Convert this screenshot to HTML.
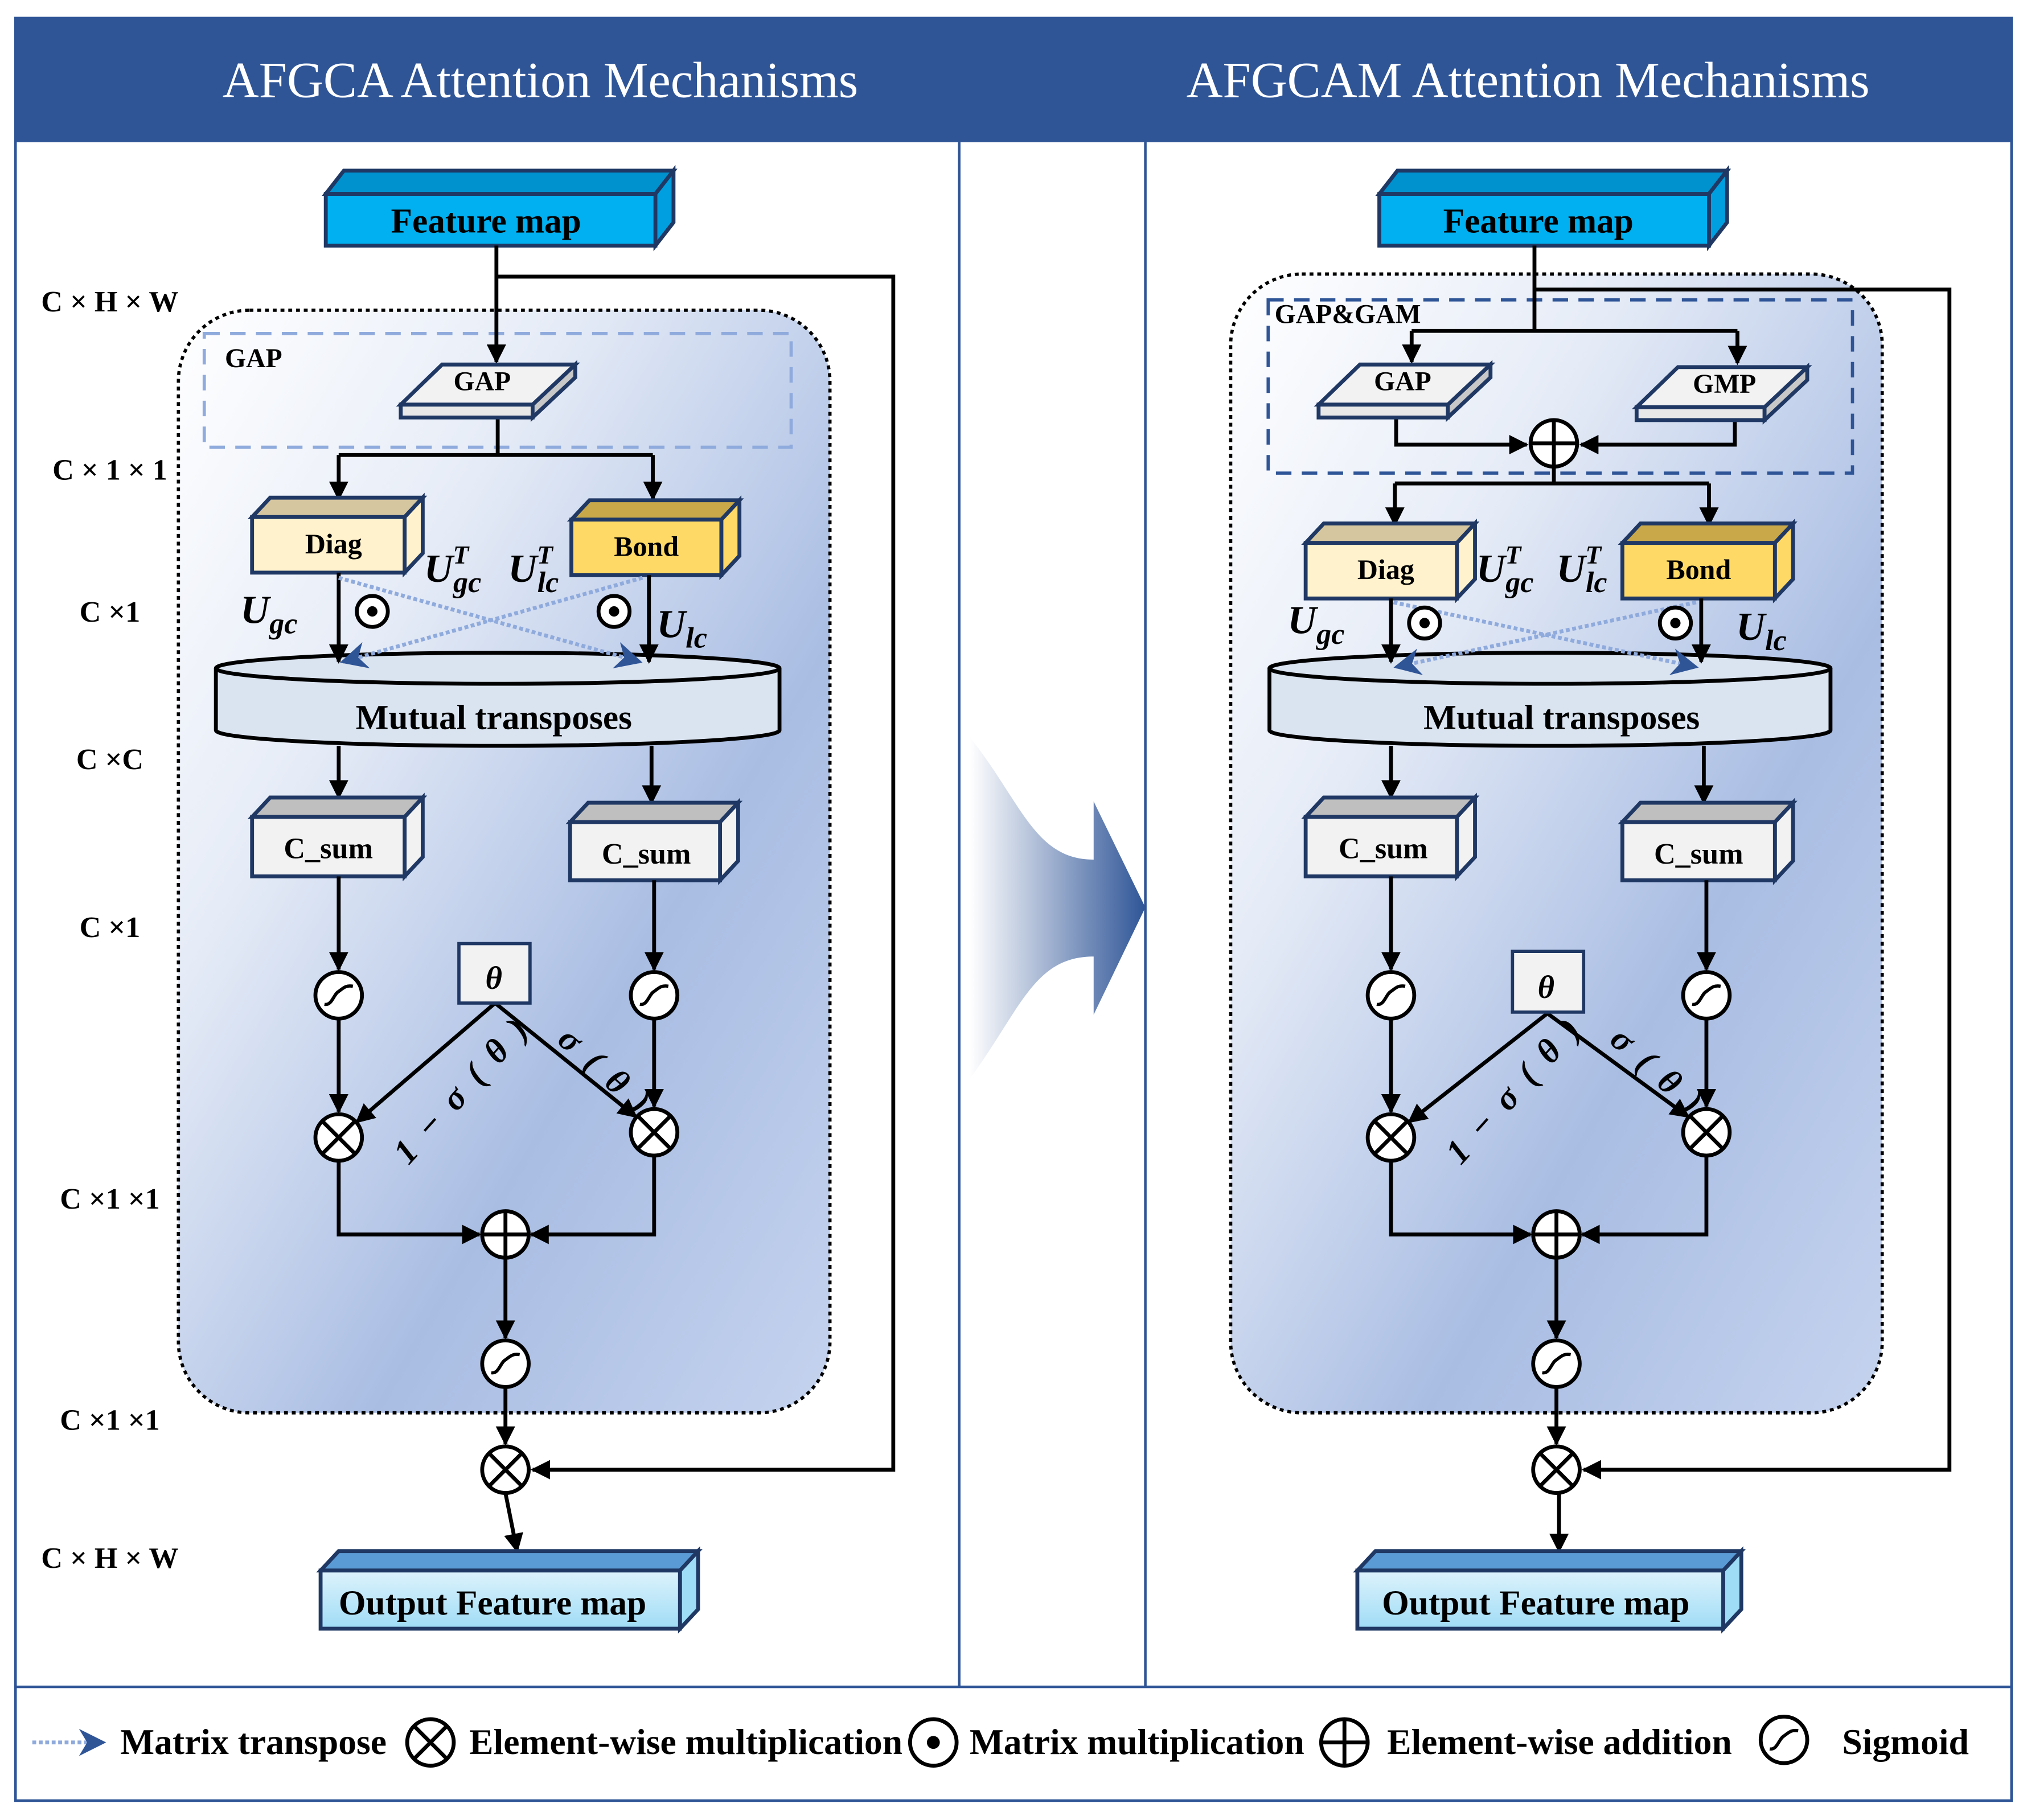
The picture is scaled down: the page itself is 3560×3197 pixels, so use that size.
<!DOCTYPE html>
<html><head><meta charset="utf-8"><style>
html,body{margin:0;padding:0;background:#fff;}
svg{display:block;}
text{font-family:"Liberation Serif",serif;font-weight:bold;}
</style></head><body>
<svg width="3560" height="3197" viewBox="0 0 1568 1408" preserveAspectRatio="none" xmlns="http://www.w3.org/2000/svg">
<defs>
<marker id="ah" viewBox="0 0 10 10" refX="9" refY="5" markerWidth="5" markerHeight="5" orient="auto" markerUnits="strokeWidth"><path d="M0,0 L10,5 L0,10 z" fill="#000"/></marker>
<marker id="bh" viewBox="0 0 10 10" refX="9" refY="5" markerWidth="7" markerHeight="7" orient="auto" markerUnits="strokeWidth"><path d="M0,0 L10,5 L0,10 L3,5 z" fill="#2f5597"/></marker>
<linearGradient id="panel" x1="0" y1="0" x2="1" y2="1">
<stop offset="0" stop-color="#ffffff"/><stop offset="0.3" stop-color="#e6ecf7"/><stop offset="0.65" stop-color="#a9bde3"/><stop offset="1" stop-color="#c5d3ee"/></linearGradient>
<linearGradient id="arrowg" x1="0" y1="0" x2="1" y2="0">
<stop offset="0" stop-color="#ffffff"/><stop offset="1" stop-color="#2f5597"/></linearGradient>
<linearGradient id="outg" x1="0" y1="0" x2="0" y2="1">
<stop offset="0" stop-color="#def3fc"/><stop offset="1" stop-color="#9fdcf6"/></linearGradient>
<g id="mul"><circle r="18" fill="#fff" stroke="#000" stroke-width="3"/><path d="M-12.7,-12.7 L12.7,12.7 M12.7,-12.7 L-12.7,12.7" stroke="#000" stroke-width="3"/></g>
<g id="add"><circle r="18" fill="#fff" stroke="#000" stroke-width="3"/><path d="M-18,0 L18,0 M0,-18 L0,18" stroke="#000" stroke-width="3"/></g>
<g id="sig"><circle r="18" fill="#fff" stroke="#000" stroke-width="3"/><path d="M-11,7 C-5,8 -4,-1 0,-3 C4,-6 6,-8 11,-7" fill="none" stroke="#000" stroke-width="2.5"/></g>
<g id="dot"><circle r="12" fill="#fff" stroke="#000" stroke-width="3"/><circle r="4" fill="#000"/></g>
</defs>

<rect x="12" y="14" width="1544" height="1379" fill="#fff" stroke="#2f5597" stroke-width="2"/>
<rect x="12" y="14" width="1544" height="96" fill="#2f5597"/>
<text x="418" y="75" font-size="39" fill="#fff" style="font-weight:normal" text-anchor="middle">AFGCA Attention Mechanisms</text>
<text x="1182" y="75" font-size="39" fill="#fff" style="font-weight:normal" text-anchor="middle">AFGCAM Attention Mechanisms</text>
<line x1="742" y1="110" x2="742" y2="1305" stroke="#2f5597" stroke-width="2"/>
<line x1="886" y1="110" x2="886" y2="1305" stroke="#2f5597" stroke-width="2"/>
<line x1="12" y1="1305" x2="1556" y2="1305" stroke="#2f5597" stroke-width="2"/>

<path d="M750,570 C790,620 800,665 846,665 L846,620 L886,702 L846,785 L846,740 C800,740 790,780 750,835 Z" fill="url(#arrowg)"/>

<g font-size="23" text-anchor="middle">
<text x="85" y="241">C × H × W</text>
<text x="85" y="371">C × 1 × 1</text>
<text x="85" y="481">C ×1</text>
<text x="85" y="595">C ×C</text>
<text x="85" y="725">C ×1</text>
<text x="85" y="935">C ×1 ×1</text>
<text x="85" y="1106">C ×1 ×1</text>
<text x="85" y="1213">C × H × W</text>
</g>

<!-- LEFT -->
<rect x="138" y="240" width="504" height="853" rx="55" fill="url(#panel)" stroke="#000" stroke-width="2.5" stroke-dasharray="3,3"/>
<rect x="158" y="258" width="454" height="88" fill="none" stroke="#8faadc" stroke-width="2.5" stroke-dasharray="12,8"/>
<text x="174" y="284" font-size="21">GAP</text>

<g stroke="#1f3864" stroke-width="3">
<polygon points="252,150 266,132 521,132 507,150" fill="#0091cf"/>
<polygon points="507,150 521,132 521,172 507,190" fill="#00a0e0"/>
<rect x="252" y="150" width="255" height="40" fill="#00b0f0"/>
</g>
<text x="376" y="180" font-size="27" text-anchor="middle">Feature map</text>

<g fill="none" stroke="#000" stroke-width="3">
<path d="M384,190 L384,280" marker-end="url(#ah)"/>
<path d="M384,214 L691,214 L691,1137 L412,1137" marker-end="url(#ah)"/>
<path d="M385,323 L385,352 M262,352 L505,352"/>
<path d="M262,352 L262,386" marker-end="url(#ah)"/>
<path d="M505,352 L505,386" marker-end="url(#ah)"/>
</g>
<g stroke="#1f3864" stroke-width="3">
<polygon points="310,313 412,313 412,323 310,323" fill="#e8e8e8"/>
<polygon points="412,313 445,282 445,292 412,323" fill="#c8c8c8"/>
<polygon points="342,282 445,282 412,313 310,313" fill="#f2f2f2"/>
</g>
<text x="373" y="302" font-size="21" text-anchor="middle">GAP</text>

<g stroke="#1f3864" stroke-width="3">
<polygon points="195,400 209,385 327,385 313,400" fill="#d6c6a0"/>
<polygon points="313,400 327,385 327,428 313,443" fill="#fff2cc"/>
<rect x="195" y="400" width="118" height="43" fill="#fff2cc"/>
<polygon points="442,402 456,387 572,387 558,402" fill="#c9a84a"/>
<polygon points="558,402 572,387 572,430 558,445" fill="#ffd966"/>
<rect x="442" y="402" width="116" height="43" fill="#ffd966"/>
</g>
<text x="258" y="428" font-size="22" text-anchor="middle">Diag</text>
<text x="500" y="430" font-size="22" text-anchor="middle">Bond</text>

<path d="M167,517 L167,565 A218,12 0 0 0 603,565 L603,517" fill="#dae3f0" stroke="#000" stroke-width="3"/>
<ellipse cx="385" cy="517" rx="218" ry="12" fill="#dae3f0" stroke="#000" stroke-width="3"/>
<text x="382" y="564" font-size="27" text-anchor="middle">Mutual transposes</text>

<g fill="none" stroke="#000" stroke-width="3">
<path d="M262,443 L262,512" marker-end="url(#ah)"/>
<path d="M502,445 L502,512" marker-end="url(#ah)"/>
</g>
<g fill="none" stroke="#8faadc" stroke-width="3" stroke-dasharray="3,2">
<path d="M262,447 L495,512" marker-end="url(#bh)"/>
<path d="M497,447 L265,512" marker-end="url(#bh)"/>
</g>
<use href="#dot" x="288" y="473"/>
<use href="#dot" x="475" y="473"/>
<g font-size="31" font-style="italic">
<text x="186" y="482">U<tspan font-size="23" dy="8">gc</tspan></text>
<text x="328" y="450">U<tspan font-size="20" dy="-14">T</tspan><tspan font-size="23" dx="-12" dy="22">gc</tspan></text>
<text x="393" y="450">U<tspan font-size="20" dy="-14">T</tspan><tspan font-size="23" dx="-12" dy="22">lc</tspan></text>
<text x="508" y="493">U<tspan font-size="23" dy="8">lc</tspan></text>
</g>

<g fill="none" stroke="#000" stroke-width="3">
<path d="M262,577 L262,617" marker-end="url(#ah)"/>
<path d="M504,577 L504,621" marker-end="url(#ah)"/>
</g>
<g stroke="#1f3864" stroke-width="3">
<polygon points="195,632 209,617 327,617 313,632" fill="#bfbfbf"/>
<polygon points="313,632 327,617 327,663 313,678" fill="#f2f2f2"/>
<rect x="195" y="632" width="118" height="46" fill="#f2f2f2"/>
<polygon points="441,636 455,621 571,621 557,636" fill="#bfbfbf"/>
<polygon points="557,636 571,621 571,666 557,681" fill="#f2f2f2"/>
<rect x="441" y="636" width="116" height="45" fill="#f2f2f2"/>
</g>
<text x="254" y="664" font-size="23" text-anchor="middle">C_sum</text>
<text x="500" y="668" font-size="23" text-anchor="middle">C_sum</text>

<g fill="none" stroke="#000" stroke-width="3">
<path d="M262,678 L262,750" marker-end="url(#ah)"/>
<path d="M506,681 L506,750" marker-end="url(#ah)"/>
<path d="M262,788 L262,860" marker-end="url(#ah)"/>
<path d="M506,788 L506,856" marker-end="url(#ah)"/>
<path d="M383,776 L276,868" marker-end="url(#ah)"/>
<path d="M383,776 L492,864" marker-end="url(#ah)"/>
<path d="M262,898 L262,955 L371,955" marker-end="url(#ah)"/>
<path d="M506,894 L506,955 L411,955" marker-end="url(#ah)"/>
<path d="M391,973 L391,1035" marker-end="url(#ah)"/>
<path d="M391,1073 L391,1117" marker-end="url(#ah)"/>
<path d="M391,1155 L400,1200" marker-end="url(#ah)"/>
</g>
<rect x="355" y="730" width="55" height="46" fill="#f2f2f2" stroke="#1f3864" stroke-width="2.5"/>
<text x="382" y="765" font-size="25" font-style="italic" text-anchor="middle">θ</text>
<use href="#sig" x="262" y="770"/><use href="#sig" x="506" y="770"/>
<use href="#mul" x="262" y="880"/><use href="#mul" x="506" y="876"/>
<use href="#add" x="391" y="955"/>
<use href="#sig" x="391" y="1055"/>
<use href="#mul" x="391" y="1137"/>
<text transform="translate(316,902) rotate(-48)" font-size="27" font-style="italic" letter-spacing="3">1 − σ ( θ )</text>
<text transform="translate(430,806) rotate(42)" font-size="27" font-style="italic" letter-spacing="3">σ ( θ )</text>

<g stroke="#1f3864" stroke-width="3">
<polygon points="248,1215 262,1200 540,1200 526,1215" fill="#5b9bd5"/>
<polygon points="526,1215 540,1200 540,1245 526,1260" fill="#9fdcf6"/>
<rect x="248" y="1215" width="278" height="45" fill="url(#outg)"/>
</g>
<text x="381" y="1249" font-size="27" text-anchor="middle">Output Feature map</text>

<!-- RIGHT -->
<rect x="952" y="212" width="504" height="881" rx="55" fill="url(#panel)" stroke="#000" stroke-width="2.5" stroke-dasharray="3,3"/>
<rect x="981" y="232" width="452" height="134" fill="none" stroke="#2f5597" stroke-width="2.5" stroke-dasharray="12,8"/>
<text x="986" y="250" font-size="21">GAP&amp;GAM</text>

<g stroke="#1f3864" stroke-width="3">
<polygon points="1067,150 1081,132 1336,132 1322,150" fill="#0091cf"/>
<polygon points="1322,150 1336,132 1336,172 1322,190" fill="#00a0e0"/>
<rect x="1067" y="150" width="255" height="40" fill="#00b0f0"/>
</g>
<text x="1190" y="180" font-size="27" text-anchor="middle">Feature map</text>

<g fill="none" stroke="#000" stroke-width="3">
<path d="M1187,190 L1187,256 M1092,256 L1344,256"/>
<path d="M1187,224 L1508,224 L1508,1137 L1225,1137" marker-end="url(#ah)"/>
<path d="M1092,256 L1092,280" marker-end="url(#ah)"/>
<path d="M1344,256 L1344,281" marker-end="url(#ah)"/>
<path d="M1080,323 L1080,344 L1181,344" marker-end="url(#ah)"/>
<path d="M1342,325 L1342,344 L1223,344" marker-end="url(#ah)"/>
<path d="M1202,362 L1202,374 M1079,374 L1322,374"/>
<path d="M1079,374 L1079,406" marker-end="url(#ah)"/>
<path d="M1322,374 L1322,406" marker-end="url(#ah)"/>
</g>
<g stroke="#1f3864" stroke-width="3">
<polygon points="1020,313 1120,313 1120,323 1020,323" fill="#e8e8e8"/>
<polygon points="1120,313 1153,282 1153,292 1120,323" fill="#c8c8c8"/>
<polygon points="1052,282 1153,282 1120,313 1020,313" fill="#f2f2f2"/>
<polygon points="1266,315 1365,315 1365,325 1266,325" fill="#e8e8e8"/>
<polygon points="1365,315 1398,284 1398,294 1365,325" fill="#c8c8c8"/>
<polygon points="1298,284 1398,284 1365,315 1266,315" fill="#f2f2f2"/>
</g>
<text x="1085" y="302" font-size="21" text-anchor="middle">GAP</text>
<text x="1334" y="304" font-size="21" text-anchor="middle">GMP</text>
<use href="#add" x="1202" y="343"/>

<g stroke="#1f3864" stroke-width="3">
<polygon points="1010,420 1024,405 1141,405 1127,420" fill="#d6c6a0"/>
<polygon points="1127,420 1141,405 1141,448 1127,463" fill="#fff2cc"/>
<rect x="1010" y="420" width="117" height="43" fill="#fff2cc"/>
<polygon points="1255,420 1269,405 1387,405 1373,420" fill="#c9a84a"/>
<polygon points="1373,420 1387,405 1387,448 1373,463" fill="#ffd966"/>
<rect x="1255" y="420" width="118" height="43" fill="#ffd966"/>
</g>
<text x="1072" y="448" font-size="22" text-anchor="middle">Diag</text>
<text x="1314" y="448" font-size="22" text-anchor="middle">Bond</text>

<path d="M982,517 L982,565 A217,12 0 0 0 1416,565 L1416,517" fill="#dae3f0" stroke="#000" stroke-width="3"/>
<ellipse cx="1199" cy="517" rx="217" ry="12" fill="#dae3f0" stroke="#000" stroke-width="3"/>
<text x="1208" y="564" font-size="27" text-anchor="middle">Mutual transposes</text>

<g fill="none" stroke="#000" stroke-width="3">
<path d="M1076,463 L1076,512" marker-end="url(#ah)"/>
<path d="M1316,463 L1316,512" marker-end="url(#ah)"/>
</g>
<g fill="none" stroke="#8faadc" stroke-width="3" stroke-dasharray="3,2">
<path d="M1078,466 L1312,516" marker-end="url(#bh)"/>
<path d="M1312,466 L1080,516" marker-end="url(#bh)"/>
</g>
<use href="#dot" x="1102" y="482"/>
<use href="#dot" x="1296" y="482"/>
<g font-size="31" font-style="italic">
<text x="996" y="490">U<tspan font-size="23" dy="8">gc</tspan></text>
<text x="1142" y="450">U<tspan font-size="20" dy="-14">T</tspan><tspan font-size="23" dx="-12" dy="22">gc</tspan></text>
<text x="1204" y="450">U<tspan font-size="20" dy="-14">T</tspan><tspan font-size="23" dx="-12" dy="22">lc</tspan></text>
<text x="1343" y="495">U<tspan font-size="23" dy="8">lc</tspan></text>
</g>

<g fill="none" stroke="#000" stroke-width="3">
<path d="M1076,577 L1076,617" marker-end="url(#ah)"/>
<path d="M1318,577 L1318,621" marker-end="url(#ah)"/>
</g>
<g stroke="#1f3864" stroke-width="3">
<polygon points="1010,632 1024,617 1141,617 1127,632" fill="#bfbfbf"/>
<polygon points="1127,632 1141,617 1141,663 1127,678" fill="#f2f2f2"/>
<rect x="1010" y="632" width="117" height="46" fill="#f2f2f2"/>
<polygon points="1255,636 1269,621 1387,621 1373,636" fill="#bfbfbf"/>
<polygon points="1373,636 1387,621 1387,666 1373,681" fill="#f2f2f2"/>
<rect x="1255" y="636" width="118" height="45" fill="#f2f2f2"/>
</g>
<text x="1070" y="664" font-size="23" text-anchor="middle">C_sum</text>
<text x="1314" y="668" font-size="23" text-anchor="middle">C_sum</text>

<g fill="none" stroke="#000" stroke-width="3">
<path d="M1076,678 L1076,750" marker-end="url(#ah)"/>
<path d="M1320,681 L1320,750" marker-end="url(#ah)"/>
<path d="M1076,788 L1076,860" marker-end="url(#ah)"/>
<path d="M1320,788 L1320,856" marker-end="url(#ah)"/>
<path d="M1197,784 L1090,868" marker-end="url(#ah)"/>
<path d="M1197,784 L1306,864" marker-end="url(#ah)"/>
<path d="M1076,898 L1076,955 L1184,955" marker-end="url(#ah)"/>
<path d="M1320,894 L1320,955 L1224,955" marker-end="url(#ah)"/>
<path d="M1204,973 L1204,1035" marker-end="url(#ah)"/>
<path d="M1204,1073 L1204,1117" marker-end="url(#ah)"/>
<path d="M1206,1155 L1206,1200" marker-end="url(#ah)"/>
</g>
<rect x="1170" y="736" width="55" height="47" fill="#f2f2f2" stroke="#1f3864" stroke-width="2.5"/>
<text x="1196" y="772" font-size="25" font-style="italic" text-anchor="middle">θ</text>
<use href="#sig" x="1076" y="770"/><use href="#sig" x="1320" y="770"/>
<use href="#mul" x="1076" y="880"/><use href="#mul" x="1320" y="876"/>
<use href="#add" x="1204" y="955"/>
<use href="#sig" x="1204" y="1055"/>
<use href="#mul" x="1204" y="1137"/>
<text transform="translate(1130,902) rotate(-48)" font-size="27" font-style="italic" letter-spacing="3">1 − σ ( θ )</text>
<text transform="translate(1244,806) rotate(42)" font-size="27" font-style="italic" letter-spacing="3">σ ( θ )</text>

<g stroke="#1f3864" stroke-width="3">
<polygon points="1050,1215 1064,1200 1347,1200 1333,1215" fill="#5b9bd5"/>
<polygon points="1333,1215 1347,1200 1347,1245 1333,1260" fill="#9fdcf6"/>
<rect x="1050" y="1215" width="283" height="45" fill="url(#outg)"/>
</g>
<text x="1188" y="1249" font-size="27" text-anchor="middle">Output Feature map</text>

<!-- legend -->
<path d="M25,1348 L80,1348" stroke="#8faadc" stroke-width="3" stroke-dasharray="3,2" fill="none" marker-end="url(#bh)"/>
<g font-size="28">
<text x="93" y="1357">Matrix transpose</text>
<text x="363" y="1357">Element-wise multiplication</text>
<text x="750" y="1357">Matrix multiplication</text>
<text x="1073" y="1357">Element-wise addition</text>
<text x="1425" y="1357">Sigmoid</text>
</g>
<use href="#mul" x="333" y="1348"/>
<g transform="translate(722,1348)"><circle r="18" fill="#fff" stroke="#000" stroke-width="3"/><circle r="5" fill="#000"/></g>
<use href="#add" x="1040" y="1348"/>
<use href="#sig" x="1380" y="1346"/>
</svg>
</body></html>
